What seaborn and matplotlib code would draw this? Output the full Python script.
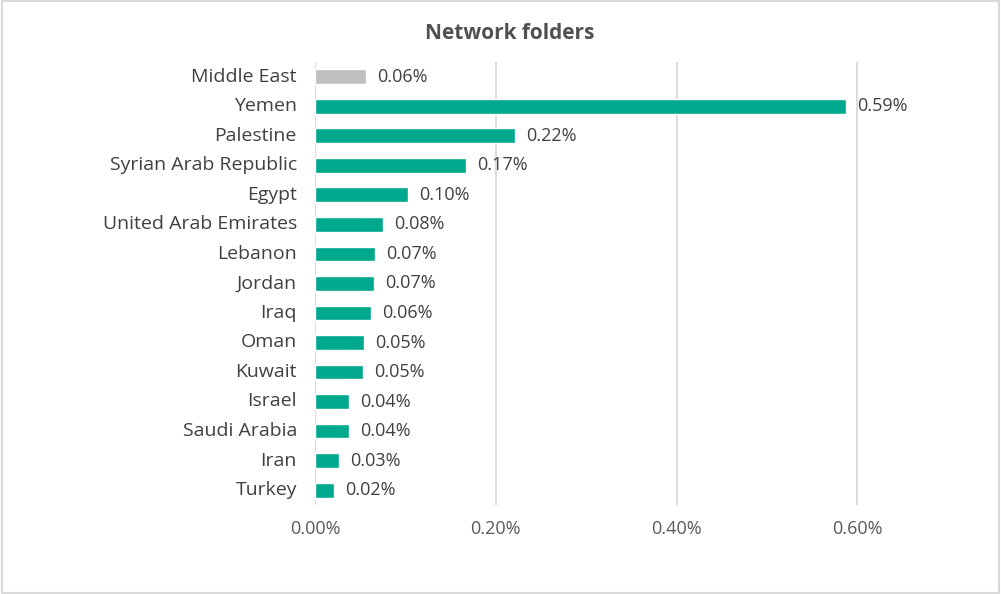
import matplotlib
matplotlib.use("Agg")
import matplotlib.pyplot as plt
import matplotlib.transforms as mtransforms
import seaborn as sns
from matplotlib.patches import Rectangle

# data (percent)
countries = ["Middle East", "Yemen", "Palestine", "Syrian Arab Republic", "Egypt",
             "United Arab Emirates", "Lebanon", "Jordan", "Iraq", "Oman", "Kuwait",
             "Israel", "Saudi Arabia", "Iran", "Turkey"]
values = [0.056, 0.588, 0.221, 0.167, 0.103, 0.075, 0.066, 0.065, 0.062,
          0.054, 0.053, 0.038, 0.038, 0.027, 0.021]
labels = ["0.06%", "0.59%", "0.22%", "0.17%", "0.10%", "0.08%", "0.07%", "0.07%",
          "0.06%", "0.05%", "0.05%", "0.04%", "0.04%", "0.03%", "0.02%"]
ticks = [0.0, 0.2, 0.4, 0.6]
tick_labels = ["0.00%", "0.20%", "0.40%", "0.60%"]

sns.set_style("white")
plt.rcParams["font.family"] = ["Open Sans", "DejaVu Sans"]

colors = ["#BFBFBF"] + ["#00A88E"] * (len(countries) - 1)
text_col = "#404040"

fig = plt.figure(figsize=(10.01, 5.94), dpi=100)
ax = fig.add_axes([0.3147, 0.150, 0.632, 0.7456])

sns.barplot(x=values, y=countries, hue=countries, palette=colors, legend=False,
            width=0.5, orient="h", ax=ax, saturation=1)

for i, c in enumerate(ax.containers):
    ax.bar_label(c, labels=[labels[i]], padding=8, fontsize=13, color=text_col)

ax.set_xlim(0, 0.7)
ax.set_xticks(ticks)
ax.set_xticklabels(tick_labels, fontsize=13, color="#595959")
ax.tick_params(axis="y", labelsize=14, colors=text_col, length=0, pad=13)
ax.tick_params(axis="x", length=0, pad=11)
ax.grid(axis="x", color="#D9D9D9", linewidth=1.3)
ax.set_axisbelow(True)
for s in ax.spines.values():
    s.set_visible(False)
ax.set_xlabel("")
ax.set_ylabel("")

# nudge country labels up a little to line up with bars
shift = mtransforms.ScaledTranslation(0, 1.5 / 72, fig.dpi_scale_trans)
for t in ax.get_yticklabels():
    t.set_transform(t.get_transform() + shift)

fig.text(0.509, 0.944, "Network folders", ha="center", va="center",
         fontsize=15, fontweight="bold", color="#505050")

fig.patches.append(Rectangle((0.002, 0.002), 0.996, 0.996, transform=fig.transFigure,
                             fill=False, edgecolor="#D9D9D9", linewidth=1.5))

fig.savefig("out.png", dpi=100)
